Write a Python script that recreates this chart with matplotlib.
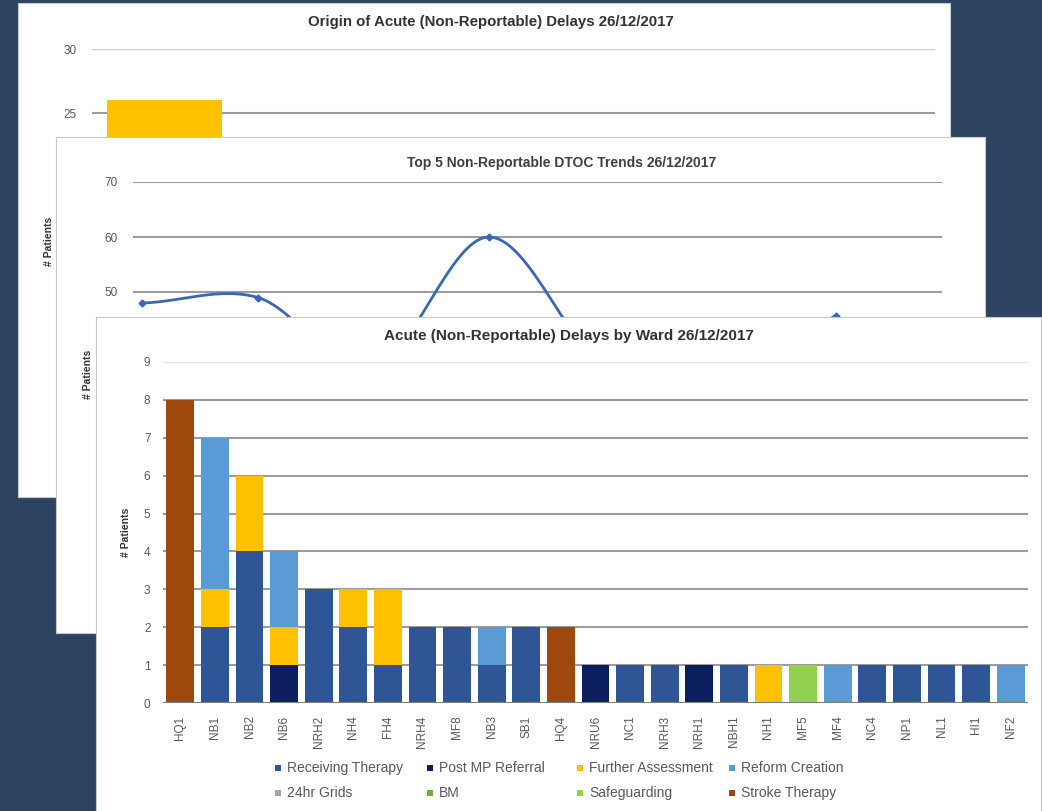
import numpy as np
import matplotlib
matplotlib.use("Agg")
import matplotlib.pyplot as plt
from matplotlib.patches import Rectangle

plt.rcParams["font.family"] = ["Liberation Sans", "DejaVu Sans"]

W, H = 1042, 811
NAVY = "#2C4462"
GRID = "#9C9C9C"
TXT = "#595959"

# ---- Origin of acute (non-reportable) delays ----
origin_categories = ["Acute Ward", "ED", "AMU", "Community", "Other", "Unknown"]
origin_counts = [26, 19, 14, 9, 6, 3]

# ---- Top 5 non-reportable DTOC trend (leading reason) ----
trend_dates = ["28/11", "05/12", "12/12", "19/12", "22/12", "24/12", "26/12"]
trend_values = [48, 49, 36, 60, 36, 30, 45.6]

# ---- Acute (non-reportable) delays by ward ----
wards = ["HQ1", "NB1", "NB2", "NB6", "NRH2", "NH4", "FH4", "NRH4", "MF8", "NB3",
         "SB1", "HQ4", "NRU6", "NC1", "NRH3", "NRH1", "NBH1", "NH1", "MF5", "MF4",
         "NC4", "NP1", "NL1", "HI1", "NF2"]
receiving_therapy = [0, 2, 4, 0, 3, 2, 1, 2, 2, 1, 2, 0, 0, 1, 1, 0, 1, 0, 0, 0, 1, 1, 1, 1, 0]
post_mp_referral  = [0, 0, 0, 1, 0, 0, 0, 0, 0, 0, 0, 0, 1, 0, 0, 1, 0, 0, 0, 0, 0, 0, 0, 0, 0]
further_assessment = [0, 1, 2, 1, 0, 1, 2, 0, 0, 0, 0, 0, 0, 0, 0, 0, 0, 1, 0, 0, 0, 0, 0, 0, 0]
reform_creation   = [0, 4, 0, 2, 0, 0, 0, 0, 0, 1, 0, 0, 0, 0, 0, 0, 0, 0, 0, 1, 0, 0, 0, 0, 1]
grids_24hr        = [0] * 25
bm                = [0] * 25
safeguarding      = [0, 0, 0, 0, 0, 0, 0, 0, 0, 0, 0, 0, 0, 0, 0, 0, 0, 0, 1, 0, 0, 0, 0, 0, 0]
stroke_therapy    = [8, 0, 0, 0, 0, 0, 0, 0, 0, 0, 0, 2, 0, 0, 0, 0, 0, 0, 0, 0, 0, 0, 0, 0, 0]

series_labels = ["Receiving Therapy", "Post MP Referral", "Further Assessment", "Reform Creation",
                 "24hr Grids", "BM", "Safeguarding", "Stroke Therapy"]
series_values = [receiving_therapy, post_mp_referral, further_assessment, reform_creation,
                 grids_24hr, bm, safeguarding, stroke_therapy]
series_colors = ["#2F5597", "#0B1F5E", "#FFC000", "#5B9BD5",
                 "#A5A5A5", "#70AD47", "#92D050", "#9E480E"]


def frect(x0, y0, x1, y1):
    return [x0 / W, 1 - y1 / H, (x1 - x0) / W, (y1 - y0) / H]


def panel(fig, box, z):
    bg = fig.add_axes(frect(*box), zorder=z)
    bg.set_facecolor("white")
    bg.set_xticks([])
    bg.set_yticks([])
    for s in bg.spines.values():
        s.set_color("#C8C8C8")
        s.set_linewidth(0.8)
    return bg


def style_axis(ax, pad):
    ax.patch.set_alpha(0)
    for s in ax.spines.values():
        s.set_visible(False)
    ax.tick_params(axis="both", length=0, colors=TXT, labelsize=8.5)
    ax.tick_params(axis="y", pad=pad)


def catmull_rom(x, y, n=30):
    x = np.asarray(x, float)
    y = np.asarray(y, float)
    px = np.concatenate([[2 * x[0] - x[1]], x, [2 * x[-1] - x[-2]]])
    py = np.concatenate([[y[0]], y, [y[-1]]])
    xs, ys = [], []
    t = np.linspace(0, 1, n, endpoint=False)
    for i in range(1, len(px) - 2):
        m1 = (py[i + 1] - py[i - 1]) / 2
        m2 = (py[i + 2] - py[i]) / 2
        h00 = 2 * t**3 - 3 * t**2 + 1
        h10 = t**3 - 2 * t**2 + t
        h01 = -2 * t**3 + 3 * t**2
        h11 = t**3 - t**2
        xs.append(px[i] + (px[i + 1] - px[i]) * t)
        ys.append(h00 * py[i] + h10 * m1 + h01 * py[i + 1] + h11 * m2)
    xs.append([x[-1]])
    ys.append([y[-1]])
    return np.concatenate(xs), np.concatenate(ys)


fig = plt.figure(figsize=(W / 100, H / 100), dpi=100)
fig.patch.set_facecolor(NAVY)

# ---------- panel 1: origin of delays ----------
panel(fig, (18, 3, 950, 497), 1)
ax1 = fig.add_axes(frect(92, 49, 935, 433), zorder=2)
style_axis(ax1, 11)
x1 = np.arange(len(origin_categories))
ax1.bar(x1, origin_counts, width=0.82, color="#FFC000", zorder=3)
ax1.set_xlim(-0.518, 5.503)
ax1.set_ylim(0, 30)
ax1.set_yticks(range(0, 31, 5))
ax1.set_xticks([])
for v in range(5, 31, 5):
    ax1.axhline(v, color=GRID if v < 30 else "#CFCFCF", lw=1.5 if v < 30 else 1.0, zorder=1)
ax1.set_ylabel("# Patients", fontsize=7.5, fontweight="bold", color="#333333", labelpad=7)
fig.text(491 / W, 1 - 22 / H, "Origin of Acute (Non-Reportable) Delays 26/12/2017",
         ha="center", va="center", fontsize=10.8, fontweight="bold", color="#333333", zorder=3)

# ---------- panel 2: top 5 trend ----------
panel(fig, (56, 137, 985, 633), 4)
ax2 = fig.add_axes(frect(133, 182, 942, 567), zorder=5)
style_axis(ax2, 11)
xt = np.arange(len(trend_dates))
sx, sy = catmull_rom(xt, trend_values)
ax2.plot(sx, sy, color="#3A67B2", lw=2.0, zorder=3)
ax2.plot(xt, trend_values, ls="none", marker="D", ms=3.5, color="#3A67B2", zorder=4)
ax2.set_xlim(-0.08, 6.92)
ax2.set_ylim(0, 70)
ax2.set_yticks(range(0, 71, 10))
ax2.set_xticks([])
for v in range(10, 71, 10):
    ax2.axhline(v, color=GRID, lw=1.5, zorder=1)
ax2.set_ylabel("# Patients", fontsize=7.5, fontweight="bold", color="#333333", labelpad=8)
fig.text(562 / W, 1 - 163 / H, "Top 5 Non-Reportable DTOC Trends 26/12/2017",
         ha="center", va="center", fontsize=10, fontweight="bold", color="#404040", zorder=6)

# ---------- panel 3: delays by ward ----------
panel(fig, (96, 317, 1041, 815), 7)
ax3 = fig.add_axes(frect(163, 362, 1028, 703), zorder=8)
style_axis(ax3, 9)
xw = np.arange(len(wards))
bottom = np.zeros(len(wards))
for vals, col in zip(series_values, series_colors):
    vals = np.asarray(vals, float)
    ax3.bar(xw, vals, bottom=bottom, width=0.8, color=col, zorder=3)
    bottom += vals
ax3.set_xlim(-0.5, len(wards) - 0.5)
ax3.set_ylim(0, 9)
ax3.set_yticks(range(0, 10))
ax3.set_xticks(xw)
ax3.set_xticklabels(wards, rotation=90, fontsize=8.5)
ax3.tick_params(axis="x", pad=9)
for v in range(1, 10):
    ax3.axhline(v, color=GRID if v < 9 else "#E6E6E6", lw=1.5 if v < 9 else 1.0, zorder=1)
ax3.axhline(0, color="#7F7F7F", lw=1.5, zorder=4)
ax3.set_ylabel("# Patients", fontsize=7.5, fontweight="bold", color="#333333", labelpad=9)
fig.text(569 / W, 1 - 336 / H, "Acute (Non-Reportable) Delays by Ward 26/12/2017",
         ha="center", va="center", fontsize=11, fontweight="bold", color="#333333", zorder=9)

# legend: two rows of four entries
col_x = [278, 430, 580, 732]
row_y = [768, 793]
for i, (lab, col) in enumerate(zip(series_labels, series_colors)):
    cx = col_x[i % 4]
    cy = row_y[i // 4]
    fig.patches.append(Rectangle(((cx - 3) / W, 1 - (cy + 3) / H), 6 / W, 6 / H,
                                 transform=fig.transFigure, facecolor=col,
                                 edgecolor="none", zorder=9))
    fig.text((cx + 9) / W, 1 - cy / H, lab, ha="left", va="center",
             fontsize=10, color=TXT, zorder=9)

fig.savefig("out.png", dpi=100, facecolor=NAVY)
